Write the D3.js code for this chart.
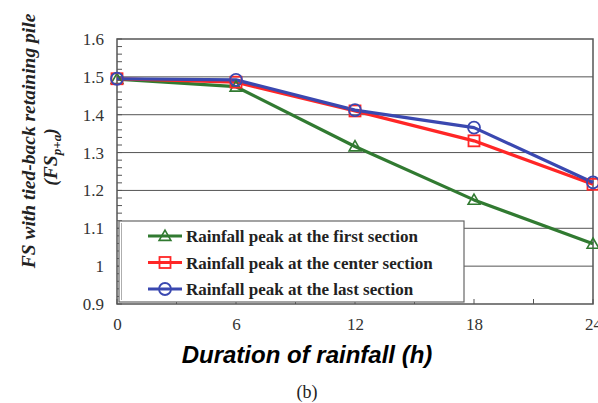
<!DOCTYPE html>
<html><head><meta charset="utf-8">
<script src="https://cdn.jsdelivr.net/npm/d3@7/dist/d3.min.js"></script>
<style>body{margin:0;background:#fff;}svg{display:block;}</style>
</head><body>
<svg id="c" width="598" height="403"></svg>
<script>
const hours = [0, 6, 12, 18, 24];
const firstSection = [1.494, 1.474, 1.316, 1.175, 1.059];
const centerSection = [1.495, 1.486, 1.410, 1.331, 1.216];
const lastSection = [1.495, 1.492, 1.412, 1.366, 1.221];
const seriesNames = ["Rainfall peak at the first section", "Rainfall peak at the center section", "Rainfall peak at the last section"];
const yTicks = [0.9, 1.0, 1.1, 1.2, 1.3, 1.4, 1.5, 1.6];
const yTickLabels = ["0.9", "1", "1.1", "1.2", "1.3", "1.4", "1.5", "1.6"];
const xTicks = [0, 6, 12, 18, 24];

const series = [
  {name: seriesNames[0], values: firstSection, color: "#317a31", marker: "triangle"},
  {name: seriesNames[1], values: centerSection, color: "#ff2626", marker: "square"},
  {name: seriesNames[2], values: lastSection, color: "#3a48b0", marker: "circle"}
];

const svg = d3.select("#c");
const L = 117, R = 593, T = 39, B = 304;
const x = d3.scaleLinear().domain([0, 24]).range([L, R]);
const y = d3.scaleLinear().domain([0.9, 1.6]).range([B, T]);

// gridlines
svg.append("g").selectAll("line").data(yTicks.filter(v => v > 0.95 && v < 1.55)).join("line")
  .attr("x1", L).attr("x2", R).attr("y1", d => y(d)).attr("y2", d => y(d))
  .attr("stroke", "#555").attr("stroke-width", 1);

// y axis inward minor ticks
svg.append("g").selectAll("line").data(d3.range(0.9, 1.6001, 0.02)).join("line")
  .attr("x1", L).attr("x2", L + 5).attr("y1", d => y(d)).attr("y2", d => y(d))
  .attr("stroke", "#555").attr("stroke-width", 1);

// x ticks inward
svg.append("g").selectAll("line").data(d3.range(0, 24.01, 3)).join("line")
  .attr("x1", d => x(d)).attr("x2", d => x(d)).attr("y1", B).attr("y2", B - 5)
  .attr("stroke", "#555").attr("stroke-width", 1);

// frame
svg.append("rect").attr("x", L).attr("y", T).attr("width", R - L).attr("height", B - T)
  .attr("fill", "none").attr("stroke", "#555").attr("stroke-width", 1.5);

// tick labels
const yAxis = d3.axisLeft(y).tickValues(yTicks).tickFormat((d, i) => yTickLabels[i]).tickSize(0).tickPadding(13);
const yg = svg.append("g").attr("transform", `translate(${L},0)`).call(yAxis);
yg.select(".domain").remove();
yg.selectAll("text").attr("font-family", "Liberation Serif, Times New Roman, serif").attr("font-size", 17).attr("fill", "#333");

const xAxis = d3.axisBottom(x).tickValues(xTicks).tickFormat(d3.format("d")).tickSize(0).tickPadding(14);
const xg = svg.append("g").attr("transform", `translate(0,${B})`).call(xAxis);
xg.select(".domain").remove();
xg.selectAll("text").attr("font-family", "Liberation Serif, Times New Roman, serif").attr("font-size", 17).attr("fill", "#333");

// markers
function drawMarker(g, type, cx, cy, color) {
  if (type === "circle") {
    g.append("circle").attr("cx", cx).attr("cy", cy).attr("r", 6).attr("fill", "none").attr("stroke", color).attr("stroke-width", 1.8);
  } else if (type === "square") {
    g.append("rect").attr("x", cx - 5.5).attr("y", cy - 5.5).attr("width", 11).attr("height", 11).attr("fill", "none").attr("stroke", color).attr("stroke-width", 1.8);
  } else {
    const s = d3.symbol().type(d3.symbolTriangle).size(60)();
    g.append("path").attr("d", s).attr("transform", `translate(${cx},${cy+1})`).attr("fill", "none").attr("stroke", color).attr("stroke-width", 1.6);
  }
}

const line = d3.line().x((d, i) => x(hours[i])).y(d => y(d));
series.forEach(s => {
  svg.append("path").datum(s.values).attr("d", line).attr("fill", "none")
    .attr("stroke", s.color).attr("stroke-width", 3.2).attr("stroke-linejoin", "round");
});
series.forEach(s => {
  const g = svg.append("g");
  s.values.forEach((v, i) => drawMarker(g, s.marker, x(hours[i]), y(v), s.color));
});

// legend
const lg = svg.append("g");
lg.append("rect").attr("x", 119).attr("y", 221).attr("width", 345).attr("height", 81)
  .attr("fill", "#fff").attr("stroke", "#666").attr("stroke-width", 1.2);
lg.append("line").attr("x1", 121.5).attr("x2", 121.5).attr("y1", 223).attr("y2", 300).attr("stroke", "#999").attr("stroke-width", 0.8);
series.forEach((s, i) => {
  const yy = 236 + i * 26.5;
  lg.append("line").attr("x1", 148).attr("x2", 182).attr("y1", yy).attr("y2", yy)
    .attr("stroke", s.color).attr("stroke-width", 3.2);
  drawMarker(lg, s.marker, 165, yy, s.color);
  lg.append("text").attr("x", 186).attr("y", yy + 6).text(s.name)
    .attr("font-family", "Liberation Serif, Times New Roman, serif").attr("font-weight", "bold")
    .attr("font-size", 17).attr("fill", "#222");
});

// axis titles
svg.append("text").attr("x", 307).attr("y", 363).attr("text-anchor", "middle")
  .attr("font-family", "Liberation Sans, Arial, sans-serif").attr("font-weight", "bold").attr("font-style", "italic")
  .attr("font-size", 24).attr("fill", "#000").text("Duration of rainfall (h)");

svg.append("text").attr("x", 307).attr("y", 398).attr("text-anchor", "middle")
  .attr("font-family", "Liberation Serif, Times New Roman, serif").attr("font-size", 18).attr("fill", "#222").text("(b)");

const yt = svg.append("g");
yt.append("text").attr("transform", "translate(35,141) rotate(-90)").attr("text-anchor", "middle")
  .attr("font-family", "Liberation Serif, Times New Roman, serif").attr("font-weight", "bold").attr("font-style", "italic")
  .attr("font-size", 19.5).attr("fill", "#222").text("FS with tied-back retaining pile");
const t2 = yt.append("text").attr("transform", "translate(57,157) rotate(-90)").attr("text-anchor", "middle")
  .attr("font-family", "Liberation Serif, Times New Roman, serif").attr("font-weight", "bold").attr("font-style", "italic")
  .attr("font-size", 19.5).attr("fill", "#222");
t2.append("tspan").text("(FS");
t2.append("tspan").attr("font-size", 13).attr("dy", 4).text("p+a");
t2.append("tspan").attr("dy", -4).text(")");
</script>
</body></html>
